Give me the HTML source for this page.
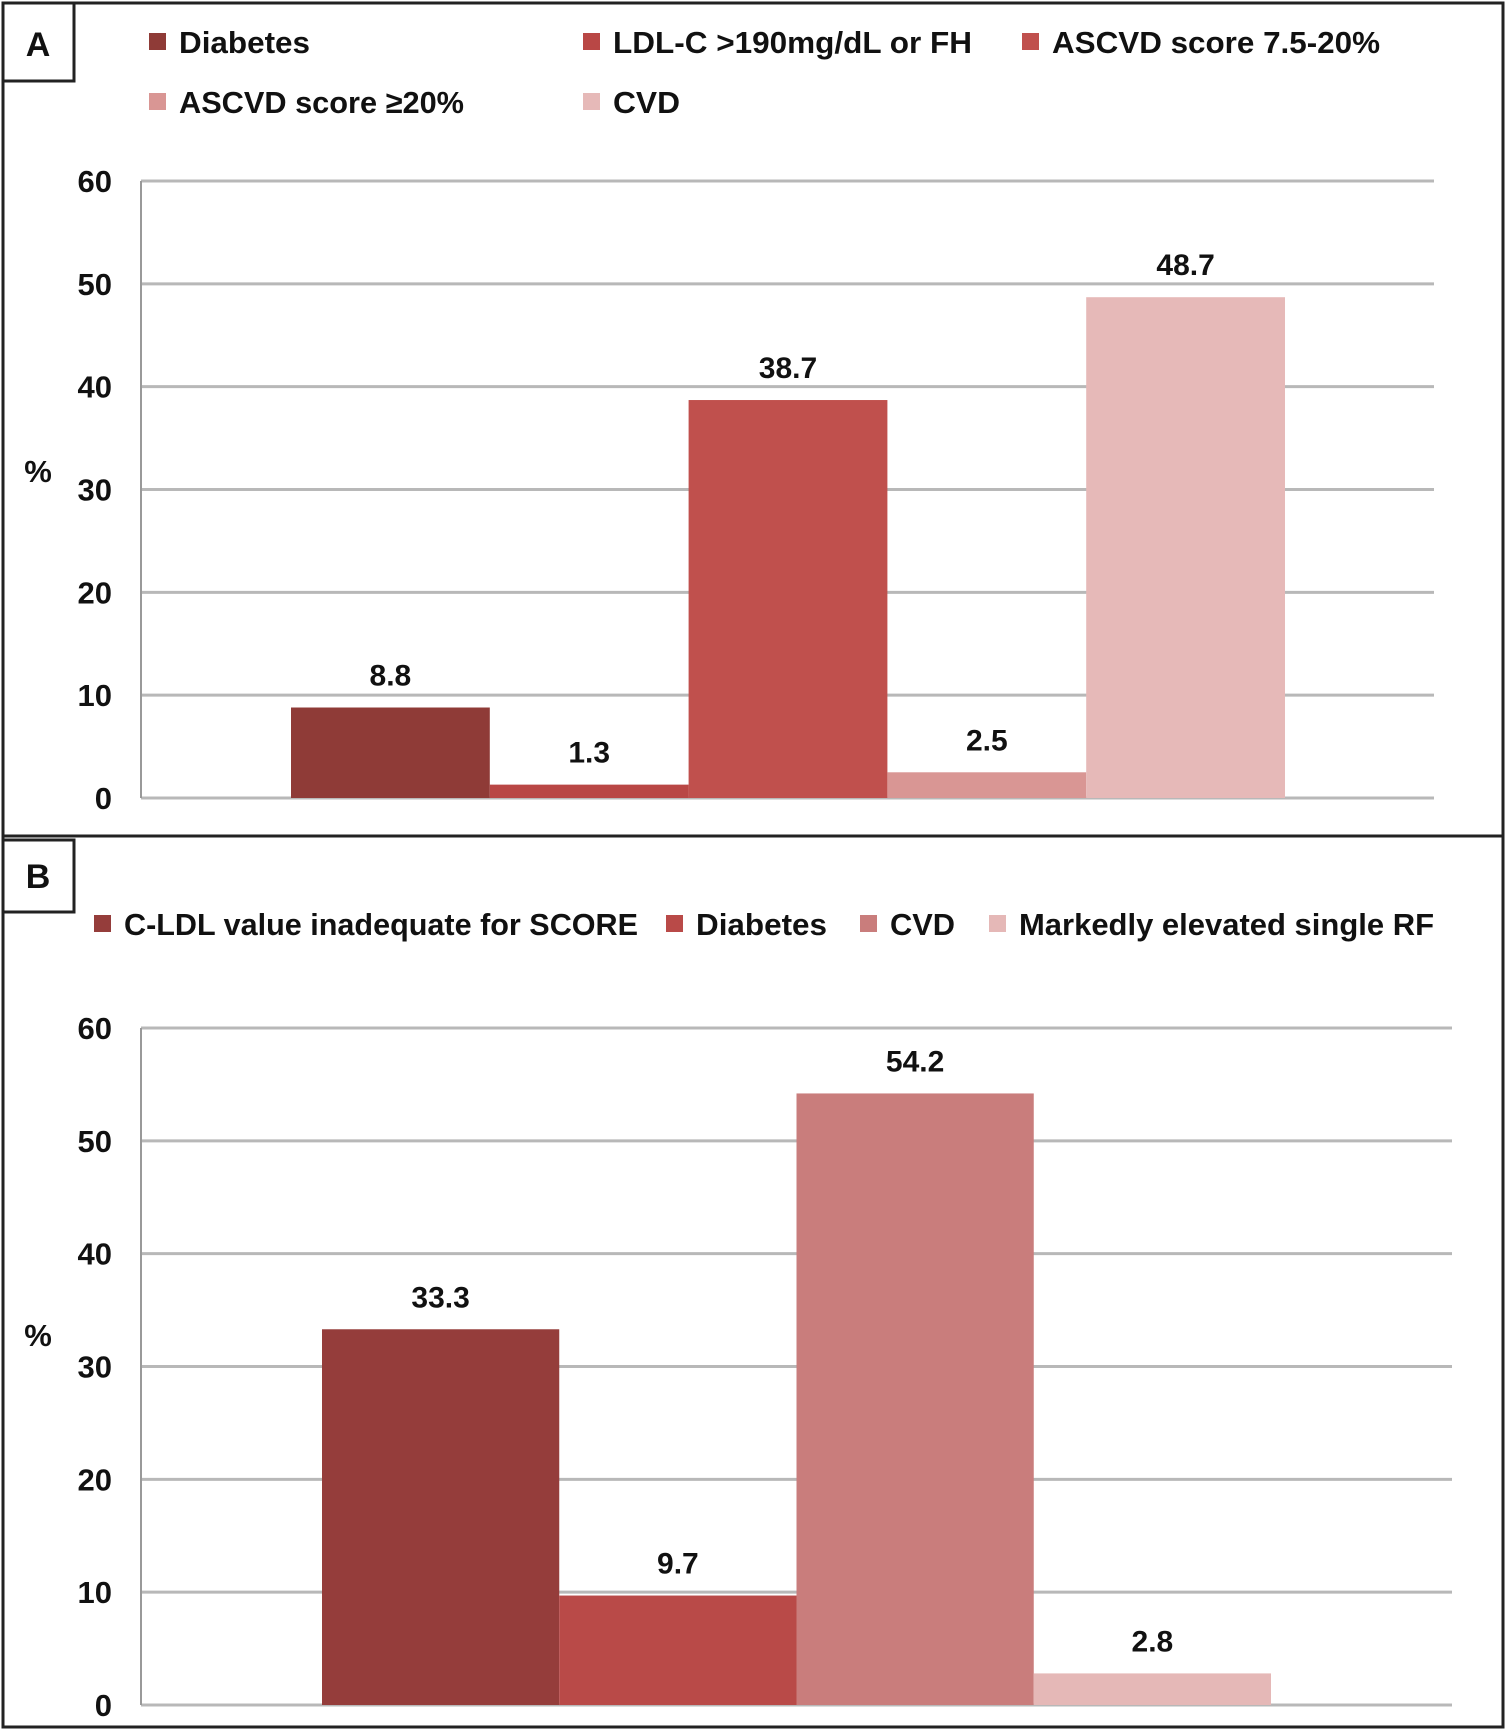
<!DOCTYPE html>
<html><head><meta charset="utf-8"><style>
html,body{margin:0;padding:0;background:#fff}
svg{display:block}
text{font-family:"Liberation Sans",sans-serif;font-weight:bold;fill:#111}
</style></head><body>
<svg id="s" width="1508" height="1733" xmlns="http://www.w3.org/2000/svg">
<rect x="3" y="3" width="1500" height="833" fill="none" stroke="#222" stroke-width="3"/>
<rect x="3" y="836" width="1500" height="891" fill="none" stroke="#222" stroke-width="3"/>
<rect x="3" y="3" width="71" height="78" fill="#fff" stroke="#222" stroke-width="3"/>
<text x="38" y="56" font-size="34" text-anchor="middle">A</text>
<rect x="3" y="840" width="71" height="72" fill="#fff" stroke="#222" stroke-width="3"/>
<text x="38" y="888" font-size="34" text-anchor="middle">B</text>
<g id="ga"></g><g id="gb"></g>
</svg>
<script>
const catsA = ["Diabetes","LDL-C >190mg/dL or FH","ASCVD score 7.5-20%","ASCVD score \u226520%","CVD"];
const valsA = [8.8, 1.3, 38.7, 2.5, 48.7];
const catsB = ["C-LDL value inadequate for SCORE","Diabetes","CVD","Markedly elevated single RF"];
const valsB = [33.3, 9.7, 54.2, 2.8];
const ticks = [0,10,20,30,40,50,60];
const NS="http://www.w3.org/2000/svg";
function mk(g,tag,attrs,txt){const e=document.createElementNS(NS,tag);for(const k in attrs)e.setAttribute(k,attrs[k]);if(txt!==undefined)e.textContent=txt;g.appendChild(e);return e;}
function draw(g,cfg,cats,vals,prefix){
  const y=v=>cfg.y0-(v/60)*(cfg.y0-cfg.y60);
  ticks.forEach(t=>{
    const l=mk(g,'line',{x1:cfg.px0,x2:cfg.px1,y1:y(t),y2:y(t),stroke:'#b8b8b8','stroke-width':3});
    
    
    const tx=mk(g,'text',{x:112,y:y(t)+11,'font-size':31,'text-anchor':'end'},String(t));
    
    
  });
  const ax=mk(g,'line',{x1:cfg.px0,x2:cfg.px0,y1:cfg.y60,y2:cfg.y0,stroke:'#999','stroke-width':2});
  
  
  const pc=mk(g,'text',{x:38,y:cfg.pctY,'font-size':31,'text-anchor':'middle'},'%');
  
  
  const bw=(cfg.bx1-cfg.bx0)/vals.length;
  vals.forEach((v,i)=>{
    const x=cfg.bx0+i*bw;
    const r=mk(g,'rect',{x:x,y:y(v),width:bw,height:cfg.y0-y(v),fill:cfg.colors[i]});
    
    
    const t=mk(g,'text',{x:x+bw/2,y:y(v)-22,'font-size':30,'text-anchor':'middle'},v.toFixed(1));
    
    
  });
  cats.forEach((c,i)=>{
    const L=cfg.leg[i];
    const m=mk(g,'rect',{x:L[0],y:L[1]-9,width:17,height:17,fill:cfg.colors[i]});
    
    
    const t=mk(g,'text',{x:L[0]+30,y:L[1]+11,'font-size':31,textLength:L[2],lengthAdjust:'spacingAndGlyphs'},c);
    
    
  });
}
draw(document.getElementById('ga'),{y0:798,y60:181,px0:141,px1:1434,bx0:291,bx1:1285,pctY:482,
  colors:['#8f3b37','#b94745','#c0504d','#d99694','#e6b9b8'],
  leg:[[149,42,131],[583,42,359],[1022,42,328],[149,102,285],[583,102,67]]},catsA,valsA,'panel-a');
draw(document.getElementById('gb'),{y0:1705,y60:1028,px0:141,px1:1452,bx0:322,bx1:1271,pctY:1346,
  colors:['#953d3b','#b94a48','#c97d7c','#e5b8b7'],
  leg:[[94,924,514],[666,924,131],[860,924,65],[989,924,415]]},catsB,valsB,'panel-b');
</script>
</body></html>
